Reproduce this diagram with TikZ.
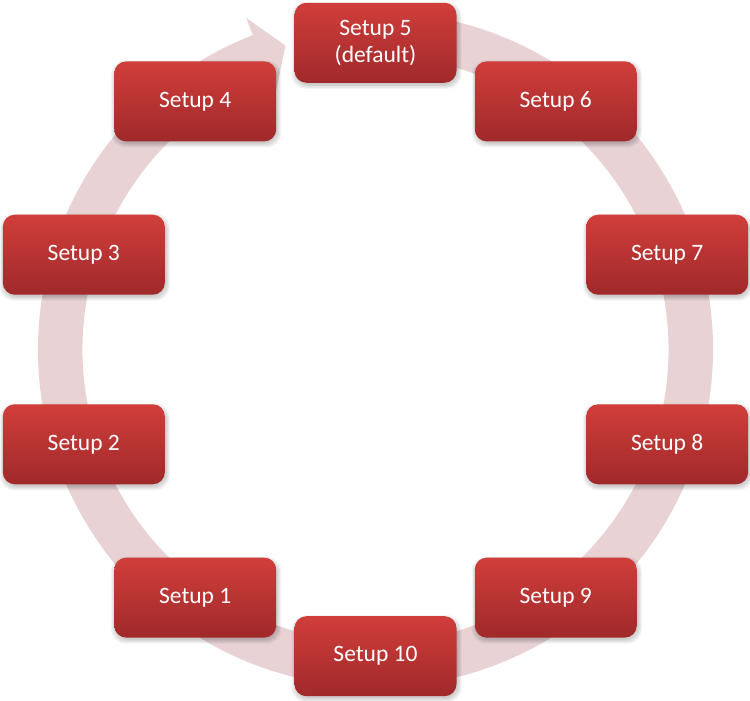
\documentclass[tikz,border=0pt]{standalone}
\usepackage{fontspec}
\setmainfont{Carlito}
\usetikzlibrary{calc}
\definecolor{boxtop}{RGB}{208,62,59}
\definecolor{boxbot}{RGB}{160,41,42}
\definecolor{ringcol}{RGB}{232,210,212}
\tikzset{
  setupbox/.style={rectangle, rounded corners=12pt, minimum width=162pt,
    minimum height=80pt, inner sep=0pt, top color=boxtop, bottom color=boxbot,
    text=white, align=center, font=\fontsize{23.5}{27}\selectfont},
  ringband/.style={fill=ringcol},
  boxshadow/.style={fill=black, opacity=0.045, rounded corners=14pt}
}
\begin{document}
\begin{tikzpicture}[x=1pt,y=1pt]
\useasboundingbox (0,0) rectangle (750,701);
\coordinate (C) at (375.5,351.5);
\foreach \n in {1,...,10}
  \coordinate (p\n) at ($(C)+({90-36*(\n-5)}:306.7pt)$);
% circular arrow band
\fill[ringband] ($(C)+(80:337.5pt)$)
   arc[start angle=80, end angle=-248.7, radius=337.5pt]
   -- ($(C)+(111.3:356pt)$)
   -- ($(C)+(106.5:317pt)$)
   -- ($(C)+(111.3:275pt)$)
   -- ($(C)+(111.3:293pt)$)
   arc[start angle=-248.7, end angle=80, radius=293pt]
   -- cycle;
% soft shadows
\foreach \n in {1,...,10}
  \foreach \i in {0,...,4}
    \fill[boxshadow] ($(p\n)+(-80-\i,-40-\i-2)$) rectangle ($(p\n)+(82+\i,40+\i-3)$);
% boxes
\node[setupbox] (s1) at (p1) {Setup 1};
\node[setupbox] (s2) at (p2) {Setup 2};
\node[setupbox] (s3) at (p3) {Setup 3};
\node[setupbox] (s4) at (p4) {Setup 4};
\node[setupbox] (s5) at (p5) {Setup 5\\(default)};
\node[setupbox] (s6) at (p6) {Setup 6};
\node[setupbox] (s7) at (p7) {Setup 7};
\node[setupbox] (s8) at (p8) {Setup 8};
\node[setupbox] (s9) at (p9) {Setup 9};
\node[setupbox] (s10) at (p10) {Setup 10};
\end{tikzpicture}
\end{document}
